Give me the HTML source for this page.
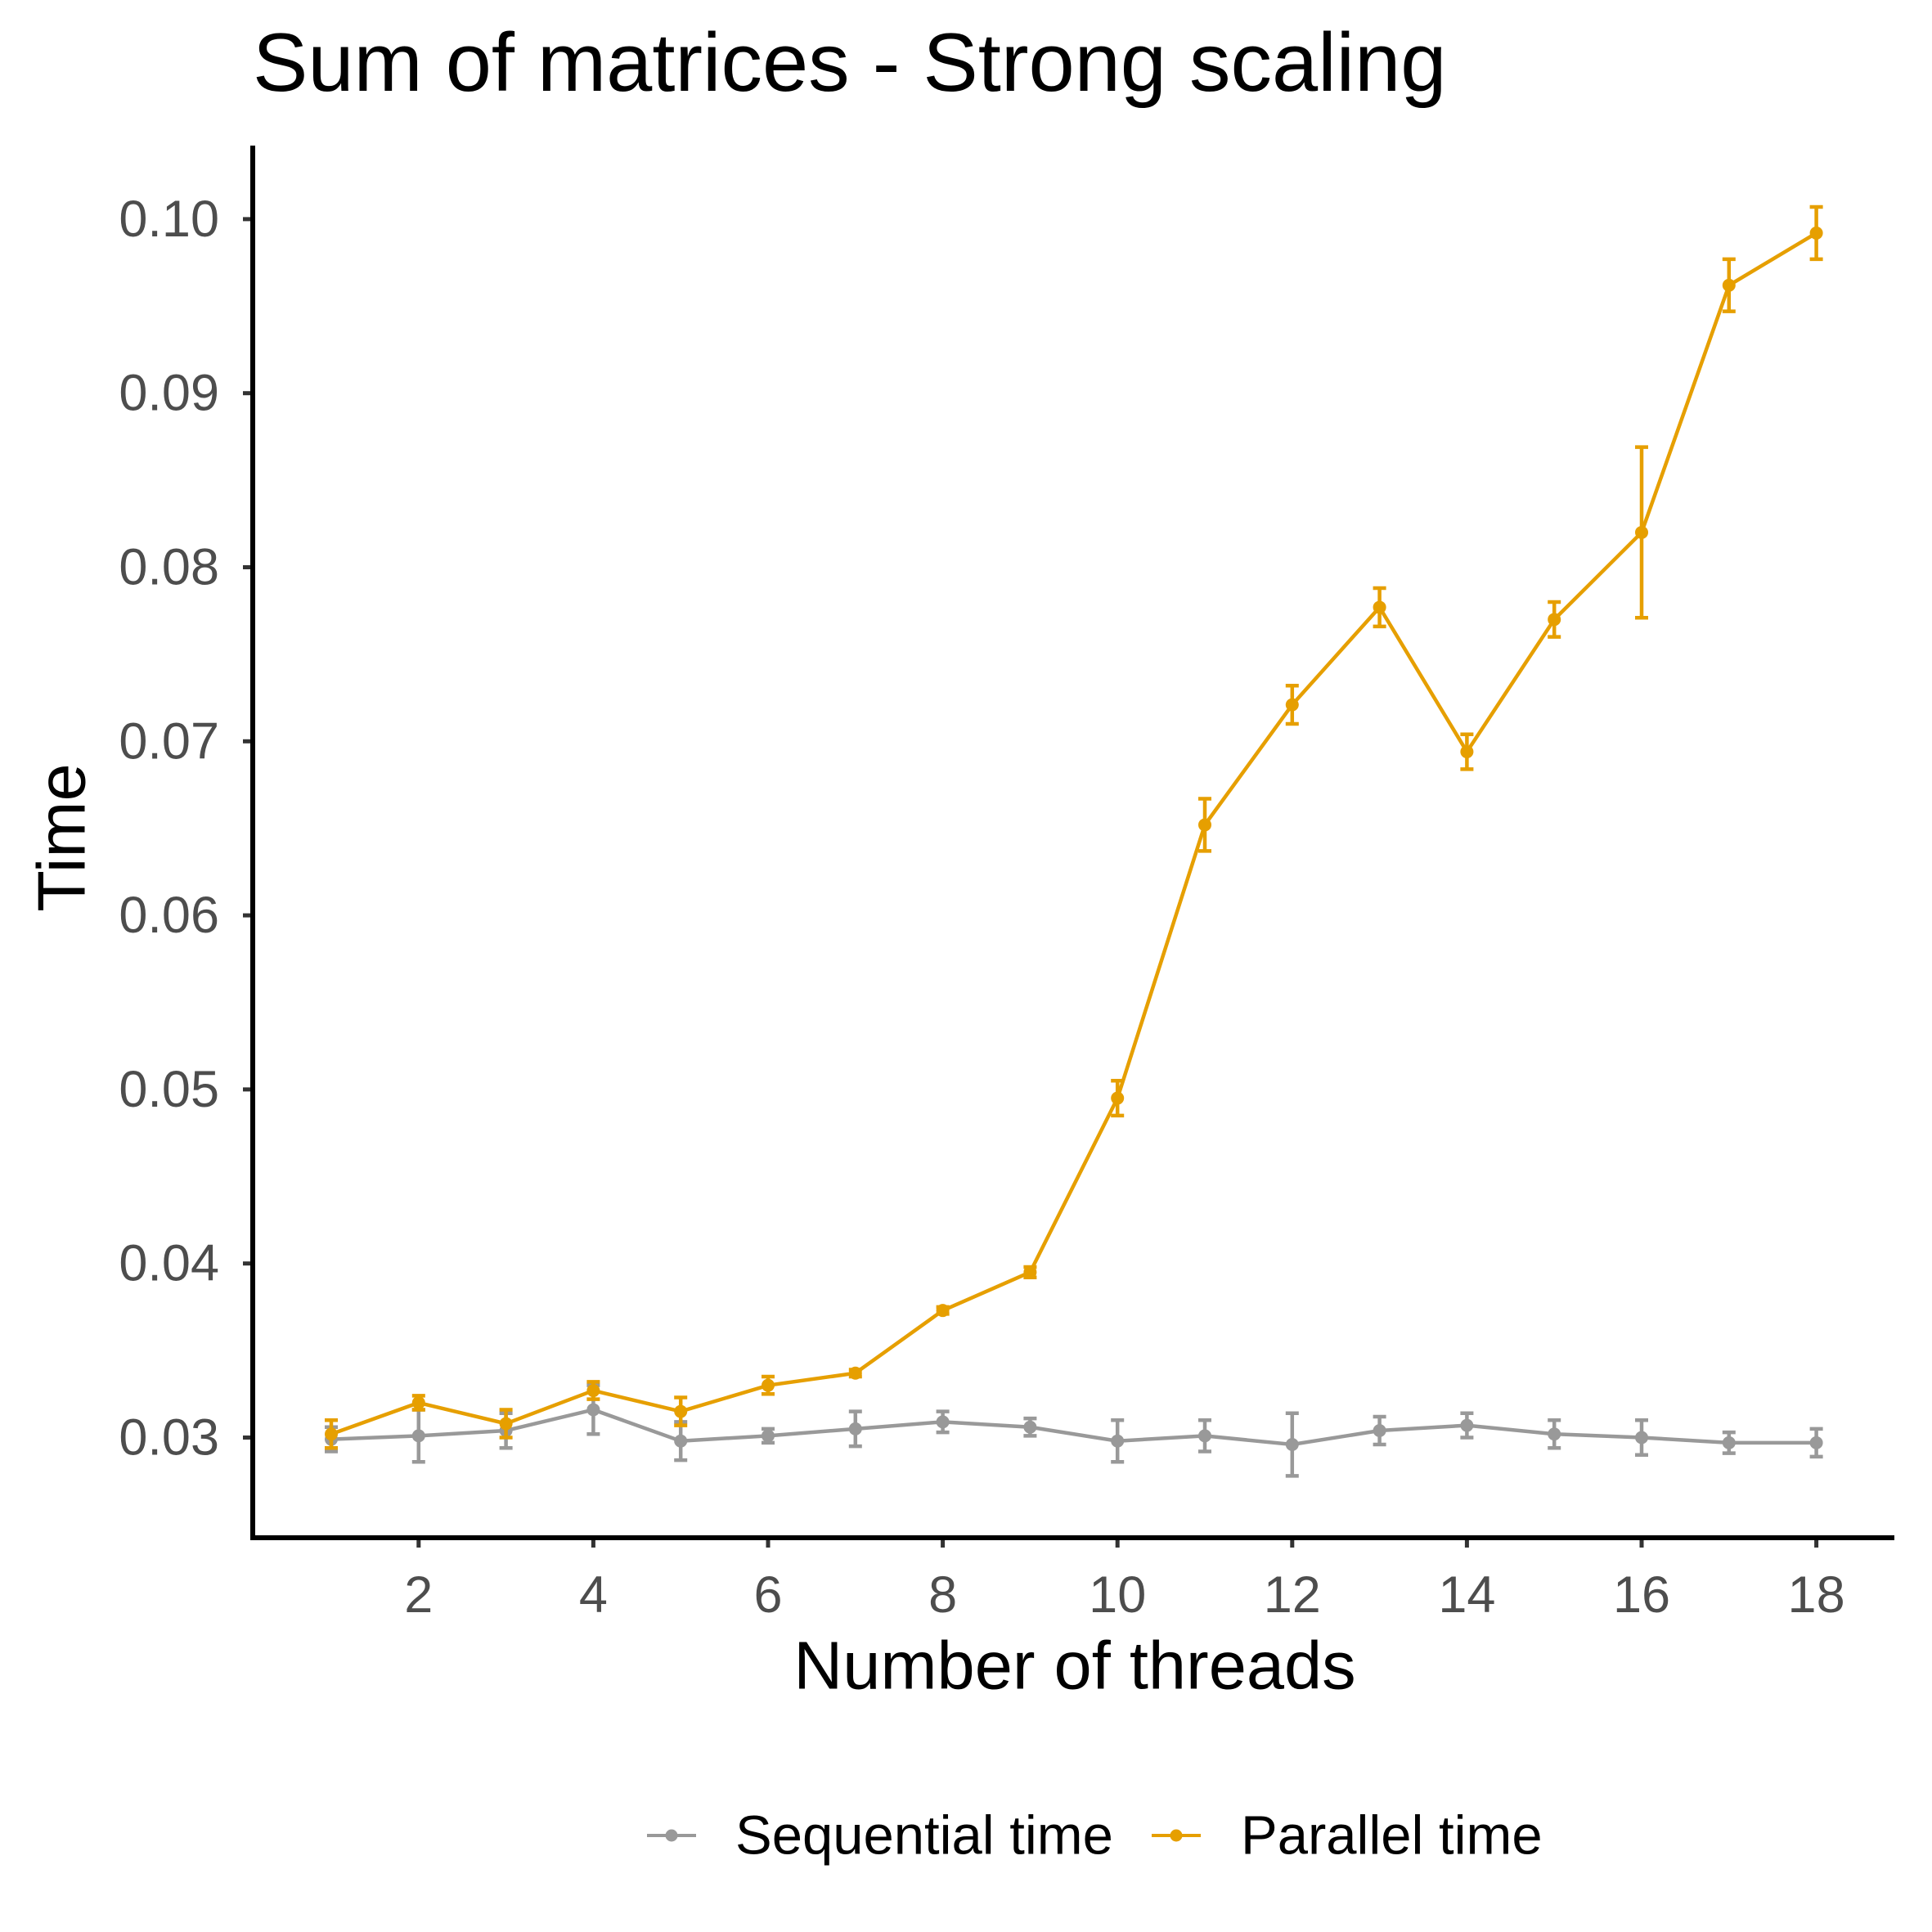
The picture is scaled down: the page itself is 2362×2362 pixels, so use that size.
<!DOCTYPE html>
<html><head><meta charset="utf-8"><style>
html,body{margin:0;padding:0;background:#fff;}
svg{display:block;font-family:"Liberation Sans",Arial,sans-serif;}
</style></head><body>
<svg id="chart" width="2362" height="2362" viewBox="0 0 2362 2362">
<text x="309" y="111" font-size="101" fill="#000">Sum of matrices - Strong scaling</text>
<g id="plot"></g>
<line x1="309" y1="178" x2="309" y2="1883" stroke="#000" stroke-width="6"/>
<line x1="306" y1="1880" x2="2316" y2="1880" stroke="#000" stroke-width="6"/>
<text x="75" y="1024" font-size="83" fill="#000" text-anchor="middle" dominant-baseline="central" transform="rotate(-90 75 1024)">Time</text>
<text x="1314" y="2036" font-size="83" fill="#000" text-anchor="middle" dominant-baseline="central">Number of threads</text>
<g>
<g>
<line x1="791" y1="2244" x2="851" y2="2244" stroke="#999999" stroke-width="4"/>
<circle cx="821" cy="2244" r="7.5" fill="#999999"/>
<text x="899" y="2244" font-size="67" dominant-baseline="central" fill="#000">Sequential time</text>
</g>
<g>
<line x1="1408" y1="2244" x2="1468" y2="2244" stroke="#E69F00" stroke-width="4"/>
<circle cx="1438" cy="2244" r="7.5" fill="#E69F00"/>
<text x="1517" y="2244" font-size="67" dominant-baseline="central" fill="#000">Parallel time</text>
</g>
</g>
</svg>
<script>
const threads=[1,2,3,4,5,6,7,8,9,10,11,12,13,14,15,16,17,18];
const parallelTime=[0.0302,0.0320,0.0308,0.0327,0.0315,0.0330,0.0337,0.0373,0.0395,0.0495,0.0652,0.0721,0.0777,0.0694,0.0770,0.0820,0.0962,0.0992];
const parallelErr=[0.0008,0.0004,0.0008,0.0005,0.0008,0.0005,0.0002,0.0002,0.0003,0.0010,0.0015,0.0011,0.0011,0.0010,0.0010,0.0049,0.0015,0.0015];
const sequentialTime=[0.0299,0.0301,0.0304,0.0316,0.0298,0.0301,0.0305,0.0309,0.0306,0.0298,0.0301,0.0296,0.0304,0.0307,0.0302,0.0300,0.0297,0.0297];
const sequentialErr=[0.0007,0.0015,0.0010,0.0014,0.0011,0.0004,0.0010,0.0006,0.0005,0.0012,0.0009,0.0018,0.0008,0.0007,0.0008,0.0010,0.0006,0.0008];
const xTicks=[2,4,6,8,10,12,14,16,18];
const yTicks=[0.03,0.04,0.05,0.06,0.07,0.08,0.09,0.10];
const yTickLabels=["0.03","0.04","0.05","0.06","0.07","0.08","0.09","0.10"];

const NS="http://www.w3.org/2000/svg";
const X=v=>405+(v-1)*106.8;
const Y=v=>1757.5-(v-0.03)*21280;
const plot=document.getElementById('plot');
function mk(tag,attrs){const e=document.createElementNS(NS,tag);for(const k in attrs)e.setAttribute(k,attrs[k]);plot.appendChild(e);return e;}

yTicks.forEach((t,i)=>{
  const tk=mk('line',{x1:297,x2:309,y1:Y(t),y2:Y(t),stroke:'#333','stroke-width':5});
  
  
  const lb=mk('text',{x:268,y:Y(t),'font-size':63,fill:'#4D4D4D','text-anchor':'end','dominant-baseline':'central'});
  lb.textContent=yTickLabels[i];
  
  
});
xTicks.forEach(t=>{
  const tk=mk('line',{x1:X(t),x2:X(t),y1:1880,y2:1892,stroke:'#333','stroke-width':5});
  
  
  const lb=mk('text',{x:X(t),y:1950,'font-size':63,fill:'#4D4D4D','text-anchor':'middle','dominant-baseline':'central'});
  lb.textContent=t;
  
  
});

function series(vals,errs,color,name){
  const pts=threads.map((t,i)=>X(t)+','+Y(vals[i])).join(' ');
  const pl=mk('polyline',{points:pts,fill:'none',stroke:color,'stroke-width':4.5});
  
  
  threads.forEach((t,i)=>{
    const x=X(t),y1=Y(vals[i]+errs[i]),y2=Y(vals[i]-errs[i]);
    const eb=mk('path',{d:`M${x},${y1}V${y2}M${x-8},${y1}H${x+8}M${x-8},${y2}H${x+8}`,stroke:color,'stroke-width':4.5,fill:'none'});
    
    
    const c=mk('circle',{cx:x,cy:Y(vals[i]),r:8,fill:color});
    
    
  });
}
series(sequentialTime,sequentialErr,'#999999','sequential');
series(parallelTime,parallelErr,'#E69F00','parallel');
</script>
</body></html>
